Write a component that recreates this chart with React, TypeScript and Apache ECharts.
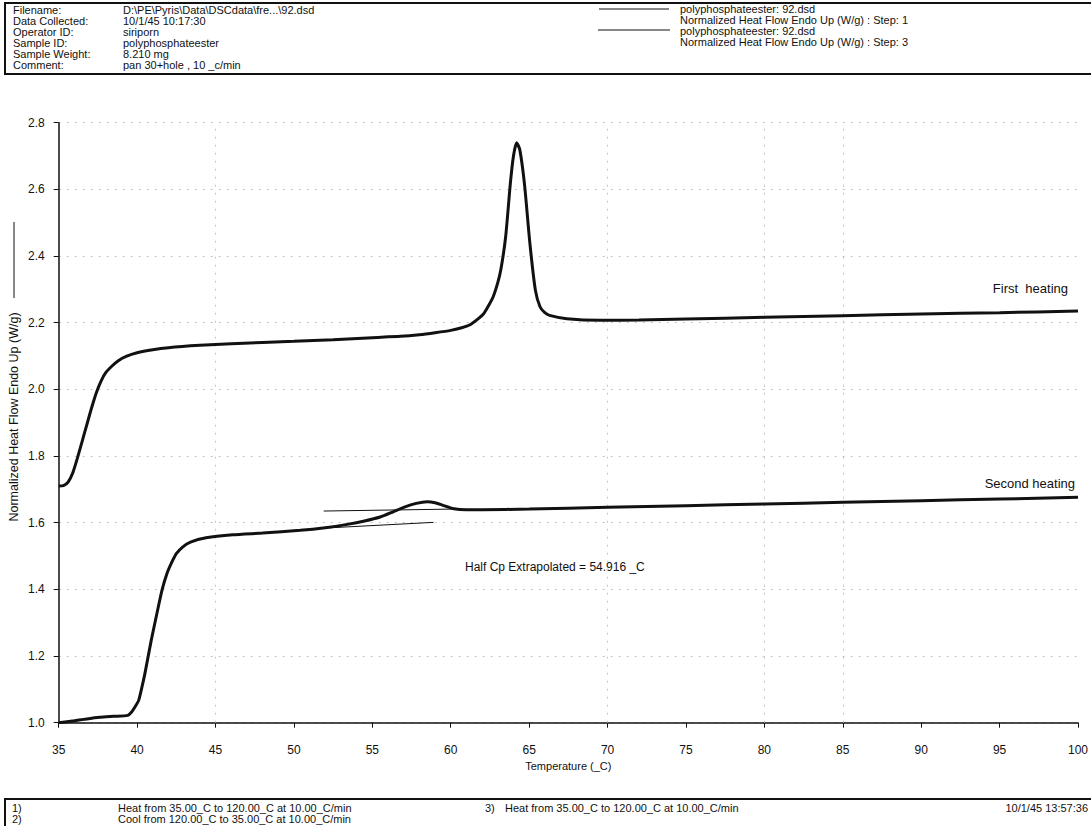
import React, { useEffect, useRef } from "react";
import * as echarts from "echarts";

// ---------- data ----------
const xMin = 35;
const xMax = 100;
const xInterval = 5;
const yMin = 1.0;
const yMax = 2.8;
const yInterval = 0.2;

const firstHeatingT = [35, 35.3, 35.6, 35.9, 36.2, 36.5, 36.8, 37.1, 37.4, 37.7, 38.0, 38.4, 38.8, 39.3, 40.0, 41, 42, 44, 46, 50, 52.5, 55, 56.8, 58, 59, 60, 60.7, 61.2, 61.7, 62.1, 62.4, 62.7, 63.0, 63.2, 63.5, 63.8, 64.0, 64.2, 64.4, 64.7, 65.05, 65.4, 65.7, 66.0, 66.3, 67.4, 69.5, 72, 75, 80, 85, 90, 95, 100];
const firstHeatingHF = [1.71, 1.711, 1.722, 1.75, 1.795, 1.845, 1.895, 1.945, 1.99, 2.025, 2.05, 2.07, 2.086, 2.099, 2.11, 2.119, 2.125, 2.132, 2.137, 2.144, 2.149, 2.155, 2.159, 2.164, 2.17, 2.177, 2.185, 2.193, 2.21, 2.227, 2.25, 2.277, 2.32, 2.36, 2.457, 2.617, 2.7, 2.74, 2.72, 2.617, 2.437, 2.297, 2.247, 2.23, 2.222, 2.212, 2.207, 2.208, 2.211, 2.216, 2.221, 2.226, 2.23, 2.235];

const secondHeatingT = [35, 36, 36.6, 37.6, 38.5, 39.4, 39.65, 39.9, 40.1, 40.3, 40.5, 40.9, 41.35, 41.6, 41.9, 42.2, 42.5, 42.9, 43.4, 44.4, 46.1, 48, 50.4, 52, 53.4, 54.5, 55.5, 56.3, 57.0, 57.8, 58.5, 59.0, 59.5, 60.2, 61, 62, 65, 70, 75, 80, 85, 90, 95, 100];
const secondHeatingHF = [1.0, 1.006, 1.01, 1.016, 1.019, 1.022, 1.032, 1.05, 1.067, 1.105, 1.148, 1.247, 1.347, 1.4, 1.447, 1.48, 1.507, 1.527, 1.542, 1.555, 1.564, 1.569, 1.577, 1.585, 1.595, 1.605, 1.617, 1.632, 1.646, 1.658, 1.663, 1.66, 1.652, 1.642, 1.639, 1.639, 1.641, 1.646, 1.651, 1.656, 1.661, 1.666, 1.671, 1.676];

const upperTangentT = [51.9, 60.3];
const upperTangentHF = [1.635, 1.641];
const lowerTangentT = [52.0, 58.9];
const lowerTangentHF = [1.584, 1.601];

const verticalGridT = [45, 70, 80, 85];

const headerLabels = ["Filename:", "Data Collected:", "Operator ID:", "Sample ID:", "Sample Weight:", "Comment:"];
const headerValues = [
  "D:\\PE\\Pyris\\Data\\DSCdata\\fre...\\92.dsd",
  "10/1/45 10:17:30",
  "siriporn",
  "polyphosphateester",
  "8.210 mg",
  "pan 30+hole , 10 _c/min",
];
const legendLines = [
  "polyphosphateester: 92.dsd",
  "Normalized Heat Flow Endo Up (W/g) : Step: 1",
  "polyphosphateester: 92.dsd",
  "Normalized Heat Flow Endo Up (W/g) : Step: 3",
];
const footerSteps = [
  ["1)", "Heat from 35.00_C to 120.00_C at 10.00_C/min"],
  ["2)", "Cool from 120.00_C to 35.00_C at 10.00_C/min"],
  ["3)", "Heat from 35.00_C to 120.00_C at 10.00_C/min"],
];
const footerDate = "10/1/45 13:57:36";
const yAxisTitle = "Normalized Heat Flow Endo Up (W/g)";
const xAxisTitle = "Temperature (_C)";
const annotationText = "Half Cp Extrapolated = 54.916 _C";
const curveLabels = ["First  heating", "Second heating"];

const zip = (xs: number[], ys: number[]) => xs.map((x, i) => [x, ys[i]]);

const FONT = "'Liberation Sans', Arial, Helvetica, sans-serif";
const INK = "#111";

export default function App() {
  const ref = useRef<HTMLDivElement>(null);

  useEffect(() => {
    document.body.style.margin = "0";
    const chart = echarts.init(ref.current!, undefined, { renderer: "svg" });

    const txt = (x: number, y: number, text: string, extra: any = {}, rotation = 0) => ({
      type: "text",
      x,
      y,
      rotation,
      silent: true,
      style: {
        text,
        fill: INK,
        font: `11px ${FONT}`,
        textVerticalAlign: "middle",
        ...extra,
      },
    });

    const headerRowY = [10, 21, 32, 43, 54, 65];
    const legendRowY = [9, 20, 30.5, 41.5];
    const graphics: any[] = [
      {
        type: "rect",
        shape: { x: 5, y: 3, width: 1100, height: 71 },
        style: { fill: "none", stroke: INK, lineWidth: 2 },
        silent: true,
      },
      ...headerLabels.map((t, i) => txt(13, headerRowY[i], t)),
      ...headerValues.map((t, i) => txt(123, headerRowY[i], t)),
      {
        type: "line",
        shape: { x1: 599, y1: 9, x2: 669, y2: 9 },
        style: { stroke: INK, lineWidth: 1.2 },
        silent: true,
      },
      {
        type: "line",
        shape: { x1: 598, y1: 30, x2: 670, y2: 30 },
        style: { stroke: INK, lineWidth: 1.2 },
        silent: true,
      },
      ...legendLines.map((t, i) => txt(680, legendRowY[i], t)),
      // y axis title + its line sample
      txt(14, 417, yAxisTitle, { textAlign: "center", font: `12.5px ${FONT}` }, Math.PI / 2),
      {
        type: "line",
        shape: { x1: 14, y1: 222, x2: 14, y2: 298 },
        style: { stroke: INK, lineWidth: 1 },
        silent: true,
      },
      txt(1068, 288, curveLabels[0], { textAlign: "right", font: `13px ${FONT}` }),
      txt(1075, 483, curveLabels[1], { textAlign: "right", font: `13px ${FONT}` }),
      txt(465, 567, annotationText, { font: `12px ${FONT}` }),
      // footer
      {
        type: "rect",
        shape: { x: 5, y: 799, width: 1100, height: 40 },
        style: { fill: "none", stroke: INK, lineWidth: 2 },
        silent: true,
      },
      txt(12, 808, footerSteps[0][0]),
      txt(118, 808, footerSteps[0][1]),
      txt(12, 819, footerSteps[1][0]),
      txt(118, 819, footerSteps[1][1]),
      txt(485, 808, footerSteps[2][0]),
      txt(505, 808, footerSteps[2][1]),
      txt(1088, 808, footerDate, { textAlign: "right" }),
    ];

    chart.setOption({
      animation: false,
      backgroundColor: "#fff",
      textStyle: { fontFamily: FONT },
      grid: { left: 58.7, right: 13, top: 122.7, bottom: 103.3, containLabel: false },
      xAxis: {
        type: "value",
        min: xMin,
        max: xMax,
        interval: xInterval,
        name: xAxisTitle,
        nameLocation: "middle",
        nameGap: 37,
        nameTextStyle: { color: INK, fontSize: 11, fontFamily: FONT },
        axisLine: { lineStyle: { color: INK, width: 1.5 } },
        axisTick: { show: true, length: 5, lineStyle: { color: INK } },
        axisLabel: { color: INK, fontSize: 12, margin: 21, fontFamily: FONT },
        splitLine: { show: false },
      },
      yAxis: {
        type: "value",
        min: yMin,
        max: yMax,
        interval: yInterval,
        axisLine: { show: true, lineStyle: { color: INK, width: 1.5 } },
        axisTick: { show: true, length: 5, lineStyle: { color: INK } },
        axisLabel: {
          color: INK,
          fontSize: 12,
          margin: 14,
          fontFamily: FONT,
          formatter: (v: number) => v.toFixed(1),
        },
        splitLine: { show: true, lineStyle: { color: "#c4c4c4", type: [2, 6], width: 1 } },
      },
      graphic: graphics,
      series: [
        {
          type: "line",
          name: "Step 1",
          data: zip(firstHeatingT, firstHeatingHF),
          showSymbol: false,
          smooth: 0.2,
          lineStyle: { color: INK, width: 3 },
          z: 5,
          markLine: {
            silent: true,
            symbol: "none",
            label: { show: false },
            lineStyle: { color: "#c8c8c8", type: [2, 6], width: 1 },
            data: verticalGridT.map((t) => ({ xAxis: t })),
          },
        },
        {
          type: "line",
          name: "Step 3",
          data: zip(secondHeatingT, secondHeatingHF),
          showSymbol: false,
          smooth: 0.2,
          lineStyle: { color: INK, width: 3 },
          z: 5,
        },
        {
          type: "line",
          name: "tangent-upper",
          data: zip(upperTangentT, upperTangentHF),
          showSymbol: false,
          lineStyle: { color: INK, width: 1 },
          z: 4,
        },
        {
          type: "line",
          name: "tangent-lower",
          data: zip(lowerTangentT, lowerTangentHF),
          showSymbol: false,
          lineStyle: { color: INK, width: 1 },
          z: 4,
        },
      ],
    });

    return () => chart.dispose();
  }, []);

  return <div ref={ref} style={{ width: 1091, height: 826 }} />;
}
